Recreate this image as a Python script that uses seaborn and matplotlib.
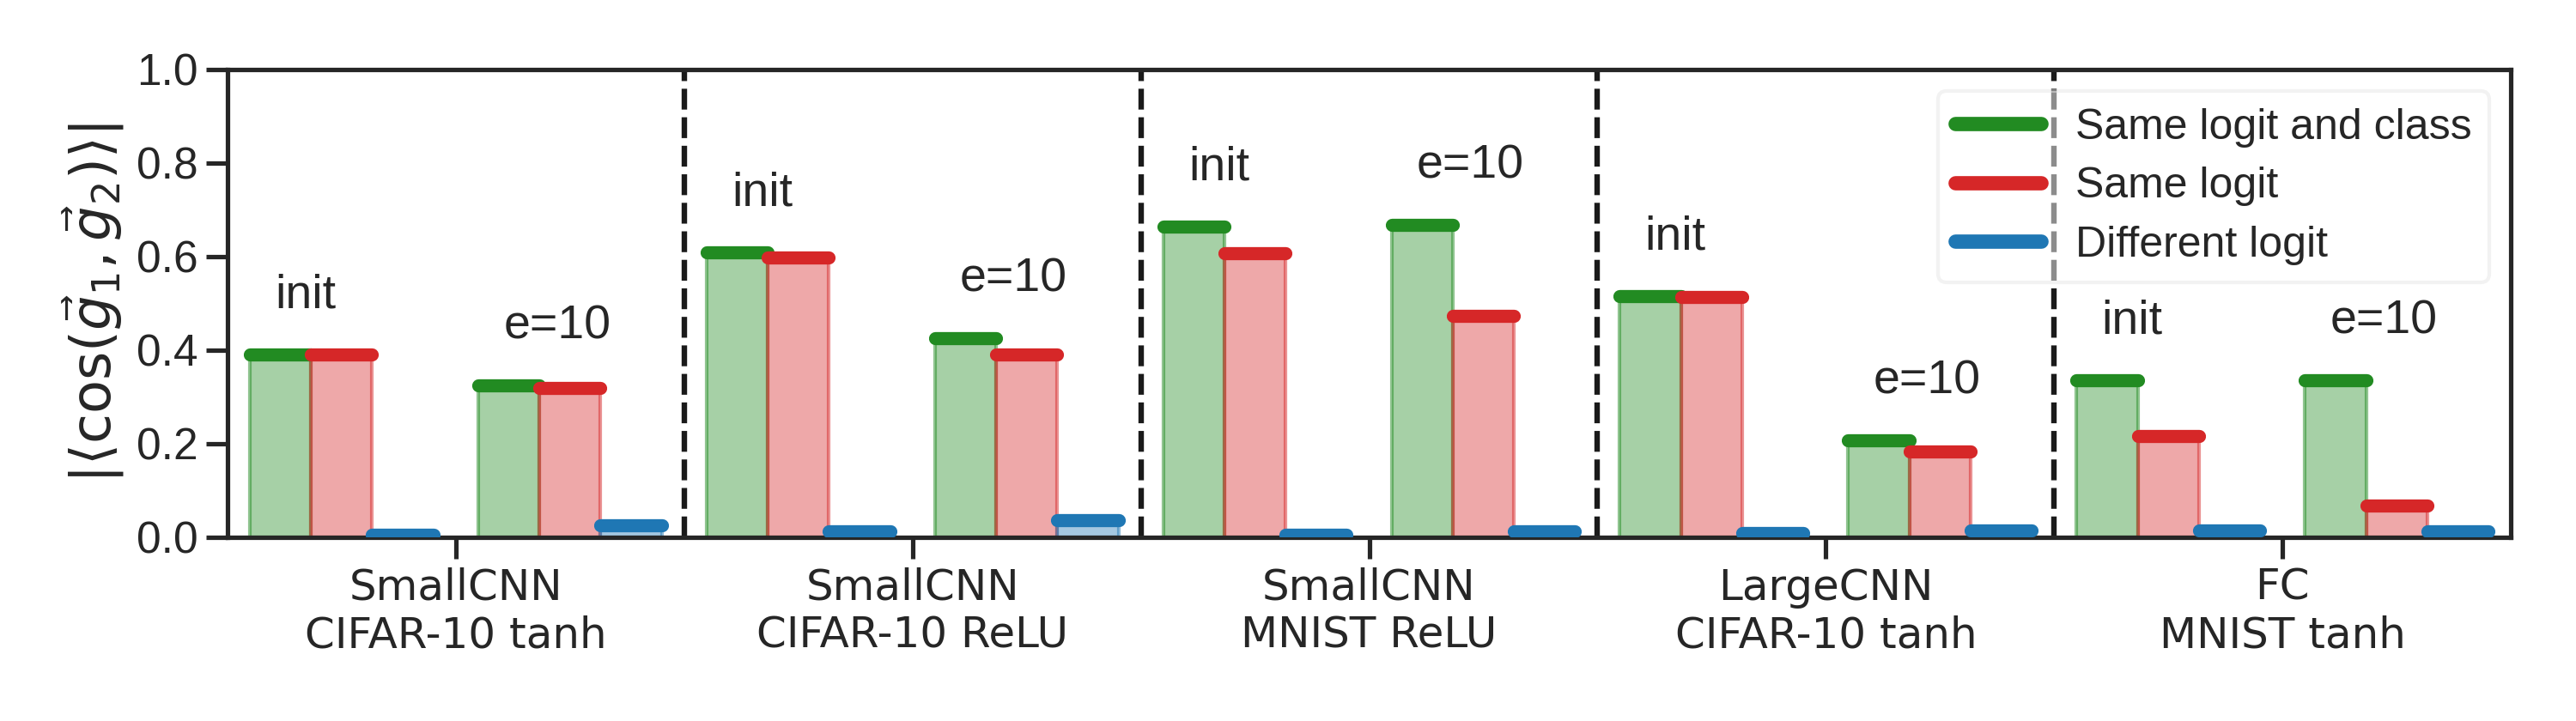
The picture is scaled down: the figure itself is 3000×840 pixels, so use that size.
import numpy as np
import pandas as pd
import matplotlib
matplotlib.use("Agg")
import matplotlib.pyplot as plt
import seaborn as sns
from matplotlib.lines import Line2D

# ---------------- data ----------------
groups = ["SmallCNN\nCIFAR-10 tanh", "SmallCNN\nCIFAR-10 ReLU", "SmallCNN\nMNIST ReLU",
          "LargeCNN\nCIFAR-10 tanh", "FC\nMNIST tanh"]
stages = ["init", "e=10"]
series = ["Same logit and class", "Same logit", "Different logit"]

same_class_init = [0.390, 0.610, 0.664, 0.515, 0.336]
same_class_e10 = [0.325, 0.425, 0.668, 0.207, 0.336]
same_logit_init = [0.390, 0.598, 0.608, 0.513, 0.216]
same_logit_e10 = [0.320, 0.390, 0.473, 0.184, 0.067]
diff_logit_init = [0.005, 0.012, 0.006, 0.010, 0.015]
diff_logit_e10 = [0.025, 0.037, 0.012, 0.015, 0.012]

colors = ["#228B22", "#d62728", "#1f77b4"]

values = {
    ("init", series[0]): same_class_init,
    ("e=10", series[0]): same_class_e10,
    ("init", series[1]): same_logit_init,
    ("e=10", series[1]): same_logit_e10,
    ("init", series[2]): diff_logit_init,
    ("e=10", series[2]): diff_logit_e10,
}

# ---------------- layout ----------------
stage_offset = {"init": -0.25, "e=10": 0.25}
bar_w = 0.134
series_offset = {s: (i - 1) * bar_w for i, s in enumerate(series)}

rows = []
for gi, g in enumerate(groups):
    for st in stages:
        for s in series:
            rows.append(dict(pos=gi + stage_offset[st] + series_offset[s],
                             value=values[(st, s)][gi], series=s, stage=st, group=g))
df = pd.DataFrame(rows)

sns.set_theme(context="talk", style="ticks")
plt.rcParams["font.family"] = ["Liberation Sans", "DejaVu Sans"]

fig, ax = plt.subplots(figsize=(15, 4.2), dpi=200)
fig.subplots_adjust(left=0.0883, right=0.9747, bottom=0.2548, top=0.9036)

sns.barplot(data=df, x="pos", y="value", hue="series", hue_order=series,
            palette=colors, saturation=1, native_scale=True, dodge=False, width=1.0,
            errorbar=None, orient="x", legend=False, ax=ax)

for p in sorted(ax.patches, key=lambda q: q.get_x()):
    c = matplotlib.colors.to_rgb(p.get_facecolor())
    p.set_alpha(None)
    p.set_facecolor((*c, 0.4))
    p.set_edgecolor((*c, 0.5))
    p.set_linewidth(1.5)
    x0, w, h = p.get_x(), p.get_width(), p.get_height()
    ax.plot([x0, x0 + w], [h, h], color=c, lw=5.5, solid_capstyle="round", zorder=3)

# stage labels
for gi in range(len(groups)):
    for st in stages:
        top = max(values[(st, s)][gi] for s in series)
        xl = gi + stage_offset[st] - 1.5 * bar_w + 0.055
        ax.text(xl, top + 0.10, st, ha="left", va="baseline", fontsize=20, color="#262626")

for i in range(len(groups) - 1):
    ax.axvline(i + 0.5, color="k", lw=2.3, dashes=(3.8, 1.4), zorder=1)

ax.set_xlim(-0.5, len(groups) - 0.5)
ax.set_ylim(0, 1.0)
ax.set_xticks(range(len(groups)))
ax.set_xticklabels(groups, fontfamily="DejaVu Sans", fontsize=18)
ax.set_yticks(np.arange(0, 1.01, 0.2))
ax.set_yticklabels([f"{v:.1f}" for v in np.arange(0, 1.01, 0.2)], fontsize=18.5)
ax.set_xlabel("")
ax.set_ylabel(r"$|\langle\cos(\vec{g}_1,\vec{g}_2)\rangle|$", fontsize=23)

handles = [Line2D([0], [0], color=c, lw=6, solid_capstyle="round") for c in colors]
leg = ax.legend(handles, series, loc="upper right", fontsize=18, framealpha=0.5,
                edgecolor="0.9", handlelength=2.0, labelspacing=0.45, fancybox=True)
leg.get_frame().set_linewidth(1.5)

fig.savefig("out.png", dpi=200)
